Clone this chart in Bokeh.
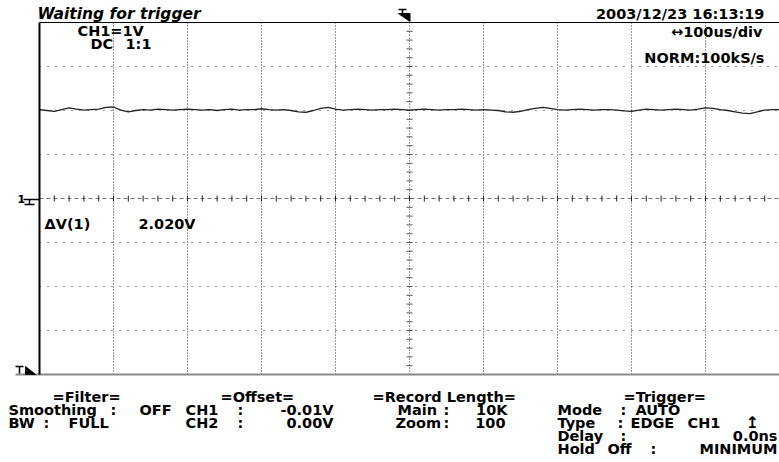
from bokeh.plotting import figure
from bokeh.models import Range1d, Label
from bokeh.embed import file_html
from bokeh.resources import INLINE
import numpy as np

# ---------------- data ----------------
us_per_div = 100          # horizontal scale (100us/div)
volts_per_div = 1.0       # CH1 = 1V/div
time_us = list(range(-500, 501, 10))
ch1_volts = [
    2.02, 2.00, 1.98, 2.02, 2.06, 2.03, 2.01, 2.02, 2.03, 2.07,
    2.08, 2.01, 1.97, 2.00, 2.02, 2.01, 2.03, 2.02, 2.01, 2.02,
    2.03, 2.02, 2.01, 2.02, 2.00, 2.02, 2.03, 2.01, 2.02, 2.02,
    2.04, 2.02, 2.01, 2.02, 2.00, 1.97, 1.96, 2.00, 2.05, 2.07,
    2.03, 2.01, 2.02, 2.03, 2.02, 2.01, 2.02, 2.02, 2.03, 2.02,
    2.01, 2.02, 2.03, 2.02, 2.01, 2.02, 2.02, 2.03, 2.02, 2.01,
    2.02, 2.01, 2.00, 1.97, 1.96, 1.98, 2.02, 2.05, 2.07, 2.05,
    2.02, 2.01, 2.02, 2.03, 2.02, 2.01, 2.02, 2.02, 2.01, 1.99,
    1.98, 2.01, 2.03, 2.02, 2.01, 2.02, 2.03, 2.02, 2.01, 2.03,
    2.06, 2.05, 2.02, 2.00, 1.97, 1.94, 1.93, 1.97, 2.01, 2.02,
    2.02,
]
x_divisions = [-400, -300, -200, -100, 100, 200, 300, 400]
y_divisions = [-3, -2, -1, 1, 2, 3]

# ---------------- layout helpers (picture pixels -> data) ----------------
PX_X, PX_Y = 74.0, 44.0      # pixels per division
CX, CY = 409.0, 198.0        # picture position of the screen centre


def tx(px):
    return (px - CX) / PX_X * us_per_div


def vy(py):
    return (CY - py) / PX_Y * volts_per_div


W, H = 779, 462
p = figure(width=W, height=H, output_backend="svg", toolbar_location=None,
           x_range=Range1d(tx(0), tx(W)), y_range=Range1d(vy(H), vy(0)),
           x_axis_location=None, y_axis_location=None, min_border=0,
           outline_line_color=None, background_fill_color="white",
           border_fill_color="white")
p.xgrid.visible = False
p.ygrid.visible = False

XL, XR = -5 * us_per_div, 5 * us_per_div
YB, YT = -4 * volts_per_div, 4 * volts_per_div

# grid (dotted)
p.segment(x0=x_divisions, y0=[YB] * len(x_divisions), x1=x_divisions, y1=[YT] * len(x_divisions),
          line_color="#333333", line_width=1, line_dash="1 2")
p.segment(x0=[XL] * len(y_divisions), y0=y_divisions, x1=[XR] * len(y_divisions), y1=y_divisions,
          line_color="#333333", line_width=1, line_dash="1 7")

# centre cross with minor ticks
p.segment(x0=[0], y0=[YB], x1=[0], y1=[YT], line_color="#444444", line_width=1, line_dash="1 2")
p.segment(x0=[XL], y0=[0], x1=[XR], y1=[0], line_color="#777777", line_width=1, line_dash="4 3")
vt = np.arange(YB, YT + 1e-9, volts_per_div / 5)
p.segment(x0=[tx(CX - 3)] * len(vt), y0=vt, x1=[tx(CX + 3)] * len(vt), y1=vt,
          line_color="#555555", line_width=1)
ht = np.arange(XL, XR + 1e-9, us_per_div / 5)
p.segment(x0=ht, y0=[vy(CY - 3)] * len(ht), x1=ht, y1=[vy(CY + 3)] * len(ht),
          line_color="#222222", line_width=1)

# waveform
p.line(time_us, ch1_volts, line_color="#222222", line_width=1.3)

# frame
p.segment(x0=[XL], y0=[YT], x1=[XR], y1=[YT], line_color="black", line_width=1)
p.segment(x0=[tx(15)], y0=[YB], x1=[XR], y1=[YB], line_color="#8a8a8a", line_width=2)
p.segment(x0=[XL], y0=[YB], x1=[XL], y1=[YT], line_color="black", line_width=2)

# trigger position marker (top) and trigger level marker (bottom-left)
p.patch(x=[tx(398), tx(409.5), tx(409.5)], y=[vy(13), vy(13), vy(21)], color="black")
p.segment(x0=[tx(398), tx(402)], y0=[vy(9), vy(9)], x1=[tx(406), tx(402)], y1=[vy(9), vy(13)],
          line_color="black", line_width=1.5)
p.patch(x=[tx(25), tx(25), tx(35)], y=[vy(366), vy(374), vy(374)], color="black")
p.segment(x0=[tx(15), tx(19)], y0=[vy(366), vy(366)], x1=[tx(23), tx(19)], y1=[vy(366), vy(373)],
          line_color="black", line_width=1.5)

# ground marker
p.segment(x0=[tx(23), tx(29), tx(24)], y0=[vy(199), vy(199), vy(204)],
          x1=[tx(39), tx(29), tx(34)], y1=[vy(199), vy(204), vy(204)],
          line_color="black", line_width=1.5)

FONT = "DejaVu Sans"
FS = "14.5px"


def lab(text, px, py, align="left", size=FS, style="bold"):
    p.add_layout(Label(x=tx(px), y=vy(py), text=text, text_font=FONT, text_font_size=size,
                       text_font_style=style, text_align=align, text_baseline="middle",
                       text_color="black"))


# header
lab("Waiting for trigger", 37, 13, size="15.5px", style="bold italic")
lab("2003/12/23  16:13:19", 769, 13, align="right")
lab("CH1=1V", 77, 30)
lab("DC", 90, 43)
lab("1:1", 125, 43)
lab("\u2194100us/div", 762, 31, align="right")
lab("NORM:100kS/s", 764, 57, align="right")
lab("1", 17, 198, size="11px")
lab("\u0394V(1)", 44, 223)
lab("2.020V", 138, 223)

# bottom information panel
r1, r2, r3, r4, r5 = 396, 409, 422, 435, 448
lab("=Filter=", 52, r1)
lab("=Offset=", 220, r1)
lab("=Record Length=", 372, r1)
lab("=Trigger=", 623, r1)

lab("Smoothing", 8, r2)
lab(":", 110, r2)
lab("OFF", 139, r2)
lab("CH1", 185, r2)
lab(":", 237, r2)
lab("-0.01V", 333, r2, align="right")
lab("Main", 397, r2)
lab(":", 443, r2)
lab("10K", 507, r2, align="right")
lab("Mode", 557, r2)
lab(":", 620, r2)
lab("AUTO", 635, r2)

lab("BW", 8, r3)
lab(":", 43, r3)
lab("FULL", 68, r3)
lab("CH2", 185, r3)
lab(":", 237, r3)
lab("0.00V", 333, r3, align="right")
lab("Zoom", 395, r3)
lab(":", 443, r3)
lab("100", 505, r3, align="right")
lab("Type", 557, r3)
lab(":", 617, r3)
lab("EDGE", 630, r3)
lab("CH1", 687, r3)
lab("\u21a5", 745, r3, size="16px")

lab("Delay", 557, r4)
lab(":", 620, r4)
lab("0.0ns", 777, r4, align="right")

lab("Hold", 557, r5)
lab("Off", 607, r5)
lab(":", 650, r5)
lab("MINIMUM", 777, r5, align="right")

open("out.html", "w").write(file_html(p, INLINE))
